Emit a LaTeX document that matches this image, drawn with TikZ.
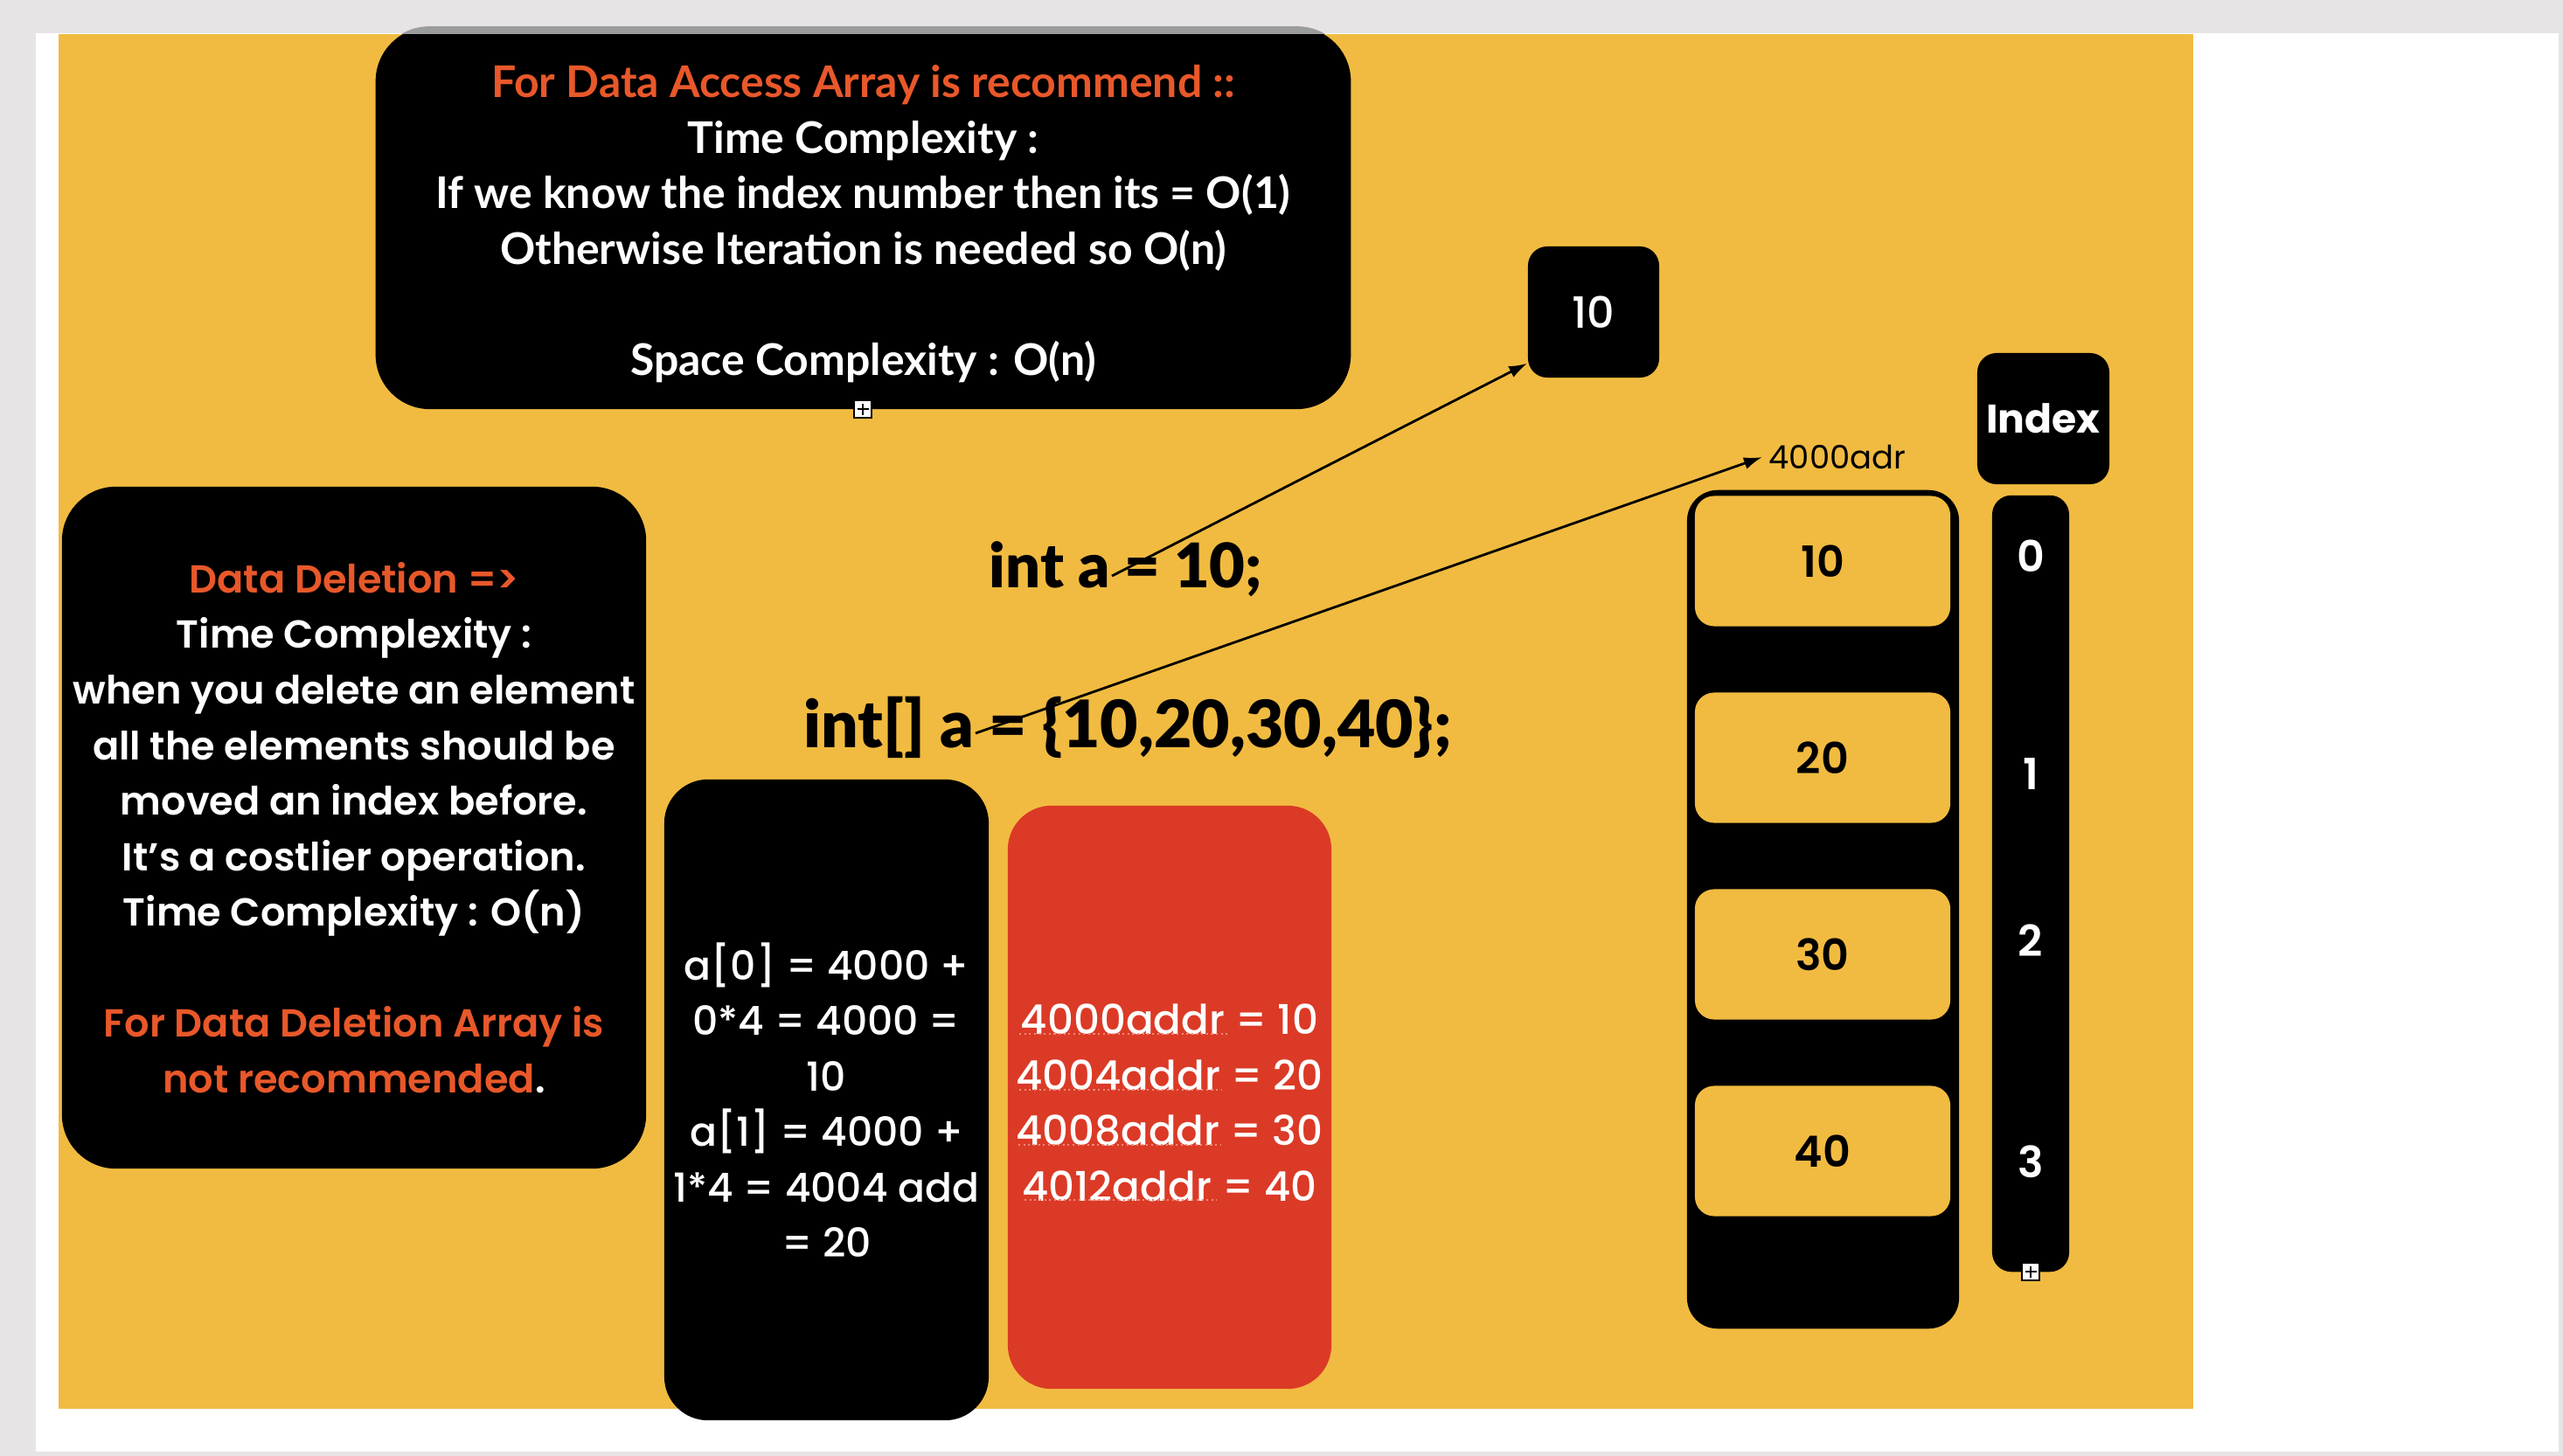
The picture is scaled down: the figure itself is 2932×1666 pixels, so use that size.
\documentclass[tikz,border=0pt]{standalone}
\usepackage{fontspec}
\usetikzlibrary{arrows.meta}
\setmainfont{Poppins}
\IfFontExistsTF{Poppins Medium}{\newfontfamily\popmed{Poppins Medium}}{\newfontfamily\popmed{Poppins}}
\IfFontExistsTF{Poppins SemiBold}{\newfontfamily\popsemi{Poppins SemiBold}}{\newfontfamily\popsemi{Poppins}[FakeBold=1]}
\IfFontExistsTF{Lato Black}{\newfontfamily\codefont{Lato Black}}{\newfontfamily\codefont{Lato}[FakeBold=1.5]}
\newfontfamily\sftext{Lato}

\definecolor{tfpage}{HTML}{E8E4E5}
\definecolor{tfyellow}{HTML}{F1BB41}
\definecolor{tforange}{HTML}{E8582A}
\definecolor{tfred}{HTML}{DB3A26}
\definecolor{tfshade}{HTML}{9C9C9C}
\definecolor{tfspell}{HTML}{F28A78}

\def\lineskipbox{18.07pt}

\tikzset{
  panelbox/.style={
    fill=black,
    text=white,
    align=center,
    inner sep=0pt,
    rounded corners=0.62cm
  },
  paneltext/.style={
    text=white,
    align=center,
    inner sep=0pt
  },
  cellbox/.style={
    fill=tfyellow,
    text=black,
    minimum width=2.92cm,
    minimum height=1.49cm,
    inner sep=0pt,
    rounded corners=0.22cm,
    font=\popsemi\fontsize{14}{16}\selectfont
  },
  idxnum/.style={
    text=white,
    inner sep=0pt,
    font=\popsemi\fontsize{14}{16}\selectfont
  },
  codeline/.style={
    text=black,
    inner sep=0pt,
    font=\codefont\fontsize{20}{24}\selectfont
  },
  ptrarrow/.style={
    -{Latex[length=6pt,width=4pt]},
    line width=0.8pt
  },
  handle/.style={
    draw=black,
    fill=white,
    minimum size=0.2cm,
    inner sep=0pt,
    line width=0.45pt,
    path picture={
      \draw[line width=0.55pt]
        ([yshift=-0.065cm]path picture bounding box.center)
        -- ([yshift=0.065cm]path picture bounding box.center);
      \draw[line width=0.55pt]
        ([xshift=-0.065cm]path picture bounding box.center)
        -- ([xshift=0.065cm]path picture bounding box.center);
    }
  }
}

\begin{document}
\begin{tikzpicture}[x=0.01cm, y=-0.01cm]

  \useasboundingbox (0,0) rectangle (2932,1666);

  % --------------------------------------------------------------------
  % Page and slide
  % --------------------------------------------------------------------

  \fill[tfpage] (0,0) rectangle (2932,1666);
  \fill[white] (41,38) rectangle (2927,1661);
  \fill[tfyellow] (67,39) rectangle (2509,1612);

  % --------------------------------------------------------------------
  % Data access box
  % --------------------------------------------------------------------

  \node[
    panelbox,
    minimum width=11.15cm,
    minimum height=4.37cm
  ] (accessbox) at (987.5,249.5) {};

  \node[
    paneltext,
    font=\sftext\bfseries\fontsize{14.2}{\lineskipbox}\selectfont
  ] (accesstext) at (987.5,256) {
    \textcolor{tforange}{For Data Access Array is recommend ::}\\
    Time Complexity :\\
    If we know the index number then its = O(1)\\
    Otherwise Iteration is needed so O(n)\\[\lineskipbox]
    Space Complexity : O(n)
  };

  \begin{scope}
    \clip (0,0) rectangle (2932,38);
    \fill[tfshade, rounded corners=0.62cm]
      (accessbox.north west) rectangle (accessbox.south east);
  \end{scope}

  % --------------------------------------------------------------------
  % Data deletion box
  % --------------------------------------------------------------------

  \node[
    panelbox,
    minimum width=6.68cm,
    minimum height=7.80cm,
    font=\popsemi\fontsize{12.7}{\lineskipbox}\selectfont
  ] (deletebox) at (405,947)
  {
    \textcolor{tforange}{Data Deletion =>}\\
    Time Complexity :\\
    when you delete an element\\
    all the elements should be\\
    moved an index before.\\
    It’s a costlier operation.\\
    Time Complexity : O(n)\\[\lineskipbox]
    \textcolor{tforange}{For Data Deletion Array is}\\
    \textcolor{tforange}{not recommended}.
  };

  % --------------------------------------------------------------------
  % Address calculation and memory boxes
  % --------------------------------------------------------------------

  \node[
    panelbox,
    rounded corners=0.5cm,
    minimum width=3.71cm,
    minimum height=7.33cm,
    font=\popmed\fontsize{13}{\lineskipbox}\selectfont
  ] (calcbox) at (945.5,1258.5)
  {
    a[0] = 4000 +\\
    0*4 = 4000 =\\
    10\\
    a[1] = 4000 +\\
    1*4 = 4004 add\\
    = 20
  };

  \node[
    panelbox,
    fill=tfred,
    rounded corners=0.5cm,
    minimum width=3.70cm,
    minimum height=6.67cm
  ] (membox) at (1338,1255.5) {};

  \node[
    paneltext,
    font=\popmed\fontsize{13.3}{\lineskipbox}\selectfont
  ] (memtext) at (1338,1262) {
    4000addr = 10\\
    4004addr = 20\\
    4008addr = 30\\
    4012addr = 40
  };

  \foreach \ya/\xa/\xb in {1183/1166/1407, 1247/1166/1398, 1310/1165/1397, 1373/1172/1392}{
    \draw[tfspell, densely dotted, line width=0.6pt] (\xa,\ya) -- (\xb,\ya);
  }

  % --------------------------------------------------------------------
  % Code lines and the single value
  % --------------------------------------------------------------------

  \node[codeline] (inta) at (1288,651) {int a = 10;};
  \node[codeline, font=\codefont\fontsize{21.3}{25}\selectfont] (intarr) at (1290,832) {int[] a = \{10,20,30,40\};};

  \node[
    panelbox,
    rounded corners=0.22cm,
    minimum width=1.5cm,
    minimum height=1.5cm,
    font=\popmed\fontsize{14}{16}\selectfont
  ] (ten) at (1823,357) {10};

  % --------------------------------------------------------------------
  % Array in memory with index column
  % --------------------------------------------------------------------

  \node[
    fill=black,
    rounded corners=0.35cm,
    minimum width=3.11cm,
    minimum height=9.59cm
  ] (column) at (2085.5,1040.5) {};

  \foreach \val [count=\k from 0] in {10,20,30,40}{
    \node[cellbox] (cell\k) at (2085,{642+225*\k}) {\val};
  }

  \node[
    font=\fontsize{10.5}{12}\selectfont,
    inner sep=2pt
  ] (addr) at (2102,523) {4000adr};

  \node[
    panelbox,
    rounded corners=0.22cm,
    minimum width=1.51cm,
    minimum height=1.50cm,
    font=\bfseries\fontsize{13}{16}\selectfont
  ] (indexhead) at (2337.5,479) {Index};

  \node[
    fill=black,
    rounded corners=0.22cm,
    minimum width=0.88cm,
    minimum height=8.88cm
  ] (indexcol) at (2323,1011) {};

  \foreach \k/\y in {0/636, 1/886, 2/1076, 3/1329}{
    \node[idxnum] (idx\k) at (2323,\y) {\k};
  }

  % --------------------------------------------------------------------
  % Pointers
  % --------------------------------------------------------------------

  \coordinate (eqone) at (1272,659);
  \coordinate (eqtwo) at (1116,839);

  \draw[ptrarrow] (eqone) -- ([yshift=0.17cm]ten.south west);
  \draw[ptrarrow] (eqtwo) -- (addr.west);

  % --------------------------------------------------------------------
  % Selection handles
  % --------------------------------------------------------------------

  \node[handle] (grip1) at (987,468) {};
  \node[handle] (grip2) at (2323,1455) {};

\end{tikzpicture}
\end{document}
